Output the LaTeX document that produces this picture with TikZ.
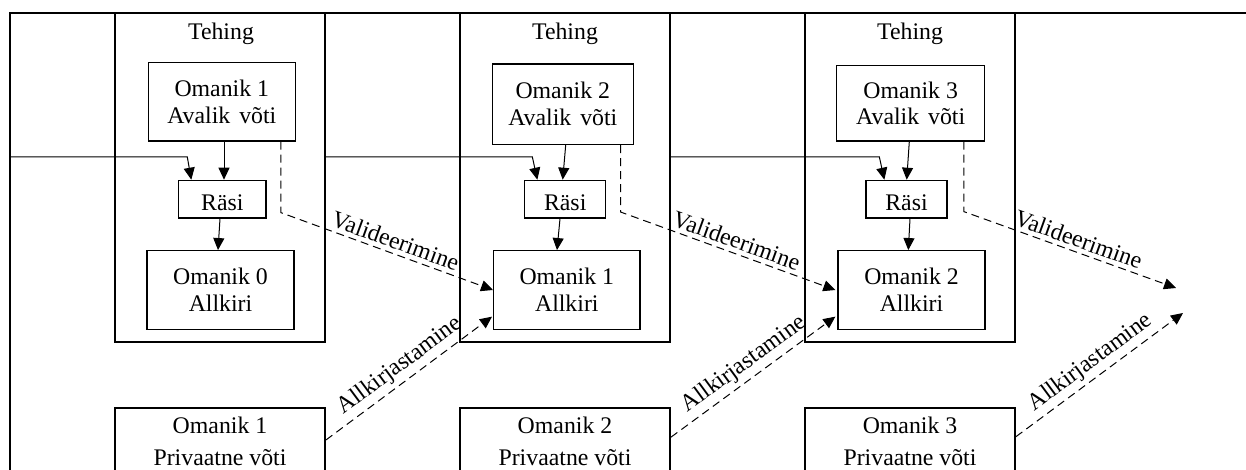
\documentclass[tikz,border=0pt]{standalone}
\usepackage{fontspec}
\setmainfont{Liberation Serif}
\usetikzlibrary{arrows.meta,calc}
\begin{document}
\begin{tikzpicture}[x=0.5pt,y=-0.5pt,
  font=\fontsize{11.9}{13.35}\selectfont,
  frame/.style={line width=0.9pt},
  bigbox/.style={draw,line width=0.9pt,inner sep=0pt,align=center},
  box/.style={draw,line width=0.65pt,inner sep=0pt,align=center},
  conn/.style={line width=0.5pt,-{Triangle[length=6pt,width=5.5pt]}},
  dconn/.style={conn,dash pattern=on 4pt off 2.5pt},
  lbl/.style={sloped,above,inner sep=2pt}]
\useasboundingbox (0,0) rectangle (1246,470);
\fill[white] (0,0) rectangle (1246,470);
\clip (0,0) rectangle (1246,470);
\draw[frame] (10,480) -- (10,13) -- (1250,13);
% transactions
\node[bigbox,minimum width=105pt,minimum height=164.5pt] (t1) at (220,177.5) {};
\node[bigbox,minimum width=105pt,minimum height=164.5pt] (t2) at (565,177.5) {};
\node[bigbox,minimum width=105pt,minimum height=164.5pt] (t3) at (910,177.5) {};
\node (th1) at (221,33.7) {Tehing};
\node (th2) at (565,33.7) {Tehing};
\node (th3) at (910,33.7) {Tehing};
% public keys
\node[box,minimum width=73.5pt,minimum height=39.3pt] (a1) at (221.8,101.7) {Omanik 1\\Avalik\hspace{1.5pt} võti};
\node[box,minimum width=70.5pt,minimum height=40.2pt] (a2) at (562.8,104.2) {Omanik 2\\Avalik\hspace{1.5pt} võti};
\node[box,minimum width=74pt,minimum height=37.7pt] (a3) at (910.7,103.3) {Omanik 3\\Avalik\hspace{1.5pt} võti};
% hashes
\node[box,minimum width=43.65pt,minimum height=18.85pt,text height=11.8pt,text depth=0pt] (r1) at (222.3,199.2) {Räsi};
\node[box,minimum width=40.5pt,minimum height=18.85pt,text height=11.8pt,text depth=0pt] (r2) at (565.2,199.2) {Räsi};
\node[box,minimum width=40.5pt,minimum height=18.85pt,text height=11.8pt,text depth=0pt] (r3) at (906.5,199.2) {Räsi};
% signatures
\node[box,minimum width=73.5pt,minimum height=39.3pt] (s0) at (220.5,290) {Omanik 0\\Allkiri};
\node[box,minimum width=73.15pt,minimum height=39.3pt] (s1) at (566.8,290) {Omanik 1\\Allkiri};
\node[box,minimum width=73.5pt,minimum height=39.3pt] (s2) at (911.5,290) {Omanik 2\\Allkiri};
% private keys
\node[bigbox,minimum width=105pt,minimum height=33.5pt] (p1) at (220,441.2) {Omanik 1\\[2.65pt]Privaatne võti};
\node[bigbox,minimum width=105pt,minimum height=33.5pt] (p2) at (565,441.2) {Omanik 2\\[2.65pt]Privaatne võti};
\node[bigbox,minimum width=105pt,minimum height=33.5pt] (p3) at (910,441.2) {Omanik 3\\[2.65pt]Privaatne võti};
% free ends
\coordinate (f0) at (10,157);
\coordinate (v3) at (1176,288);
\coordinate (g3) at (1183,313);
\coordinate (k1) at ($(r1.north west)+(9.3,0)$);
\coordinate (k2) at ($(r2.north west)+(8.3,0)$);
\coordinate (k3) at ($(r3.north west)+(14,0)$);
% solid connectors
\draw[conn] ($(a1.south)+(2.2,0)$) -- ($(r1.north)+(1.7,0)$);
\draw[conn] ($(a2.south)+(2.9,0)$) -- ($(r2.north)+(-2.5,0)$);
\draw[conn] ($(a3.south)+(-1.4,0)$) -- ($(r3.north)+(0.2,0)$);
\draw[conn] ($(r1.south)+(-2.3,0)$) -- ($(s0.north)+(-2.5,0)$);
\draw[conn] ($(r2.south)+(-5.2,0)$) -- ($(s1.north)+(-9.8,0)$);
\draw[conn] ($(r3.south)+(3.5,0)$) -- ($(s2.north)+(-3.2,0)$);
\draw[conn] (f0) -- (k1 |- f0) -- ($(r1.north west)+(13.3,0)$);
\draw[conn] (t1.east |- f0) -- (k2 |- f0) -- ($(r2.north west)+(13.3,0)$);
\draw[conn] (t2.east |- f0) -- (k3 |- f0) -- ($(r3.north west)+(19,0)$);
% validation
\draw[dconn] ($(a1.south east)+(-15,0)$) -- ++(0,71) -- node[lbl,pos=0.52] {Valideerimine} (s1.west);
\draw[dconn] ($(a2.south east)+(-13.3,0)$) -- ++(0,67) -- node[lbl,pos=0.52] {Valideerimine} ($(s2.west)+(-2,0)$);
\draw[dconn] ($(a3.south east)+(-21.4,0)$) -- ++(0,70) -- node[lbl,pos=0.52] {Valideerimine} (v3);
% signing
\draw[dconn] ($(p1.east)+(0,-1.2)$) -- node[lbl,pos=0.5] {Allkirjastamine} ($(s1.south west)+(-1,-13.3)$);
\draw[dconn] ($(p2.east)+(0,-4)$) -- node[lbl,pos=0.5] {Allkirjastamine} ($(s2.south west)+(-2,-13.3)$);
\draw[dconn] ($(p3.east)+(0,-4.5)$) -- node[lbl,pos=0.5] {Allkirjastamine} (g3);
\end{tikzpicture}
\end{document}
